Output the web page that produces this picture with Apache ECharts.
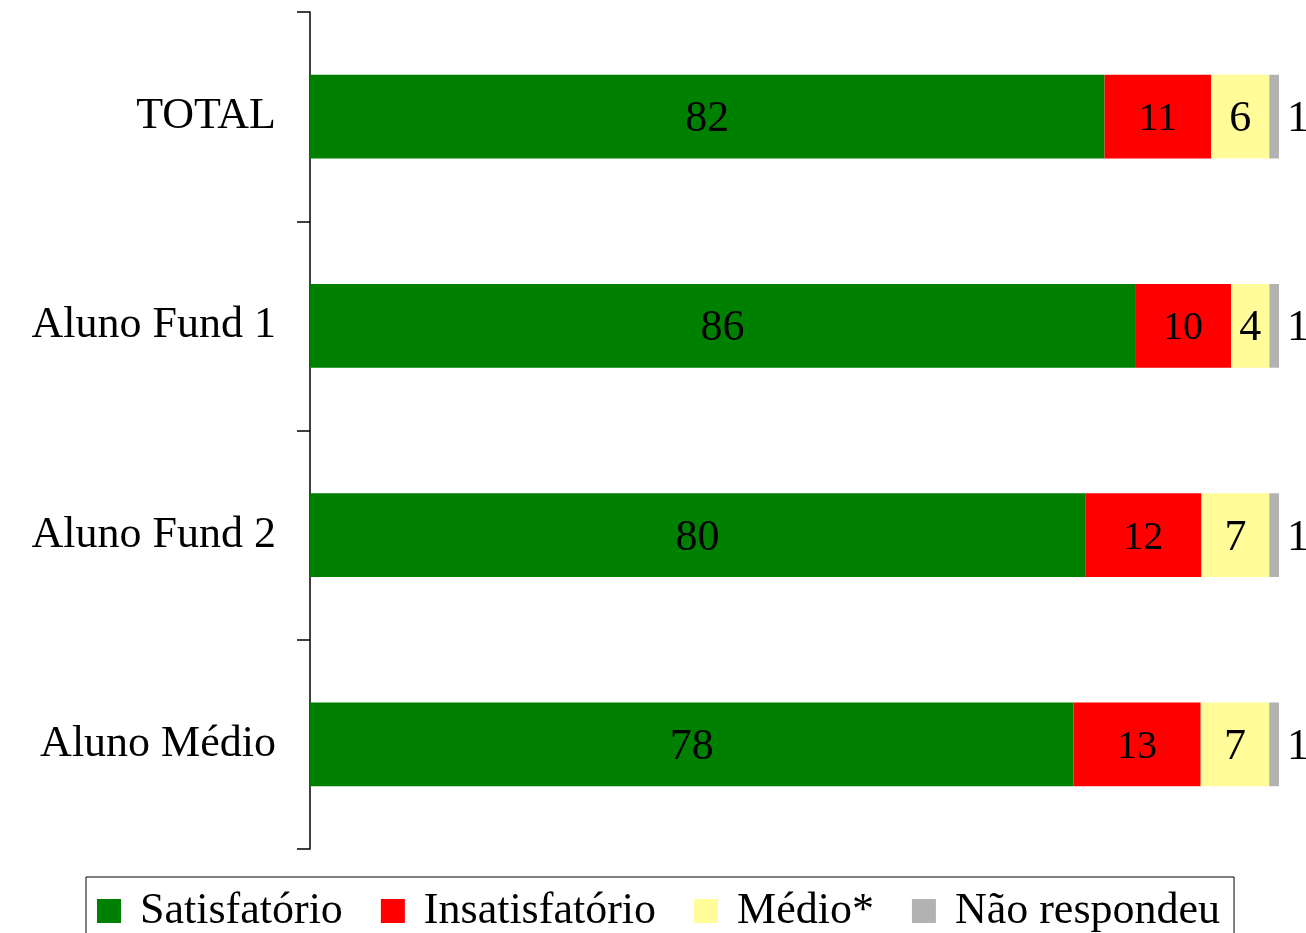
<!DOCTYPE html>
<html><head><meta charset="utf-8">
<script src="https://cdn.jsdelivr.net/npm/echarts@6/dist/echarts.min.js"></script>
<style>html,body{margin:0;padding:0;background:#fff}#c{width:1306px;height:933px}</style>
</head><body><div id="c"></div>
<script>
const categories = ['TOTAL', 'Aluno Fund 1', 'Aluno Fund 2', 'Aluno Médio'];
const seriesNames = ['Satisfatório', 'Insatisfatório', 'Médio*', 'Não respondeu'];
const satisfatorio = [82, 86, 80, 78];
const insatisfatorio = [11, 10, 12, 13];
const medio = [6, 4, 7, 7];
const naoRespondeu = [1, 1, 1, 1];
const colors = ['#008000', '#FF0000', '#FFFC99', '#B2B2B2'];

const raw = [satisfatorio, insatisfatorio, medio, naoRespondeu];
const rowSums = categories.map((_, i) => raw.reduce((s, arr) => s + arr[i], 0));
const FONT = '"Liberation Serif","DejaVu Serif",serif';

const chart = echarts.init(document.getElementById('c'), null, {renderer: 'canvas'});
const series = raw.map((arr, k) => ({
  name: seriesNames[k],
  type: 'bar',
  stack: 'total',
  barWidth: '40%',
  itemStyle: {color: colors[k]},
  data: arr.map((v, i) => ({value: v / rowSums[i] * 100, raw: v})),
  label: {
    show: true,
    position: k === 3 ? 'right' : 'inside',
    distance: 8,
    color: '#000',
    fontFamily: FONT,
    fontSize: k === 1 ? 40 : 44,
    offset: [0, 3],
    formatter: p => String(p.data.raw)
  }
}));

chart.setOption({
  animation: false,
  backgroundColor: '#fff',
  grid: {left: 310, right: 27, top: 12, bottom: 84, containLabel: false},
  xAxis: {type: 'value', min: 0, max: 100, show: false},
  yAxis: {
    type: 'category',
    inverse: true,
    data: categories,
    axisLine: {show: true, lineStyle: {color: '#000', width: 1.5}},
    axisTick: {show: true, inside: false, length: 13, lineStyle: {color: '#000', width: 1.5}},
    axisLabel: {color: '#000', fontFamily: FONT, fontSize: 44, margin: 34, padding: [8, 0, 0, 0]}
  },
  legend: {
    left: 86, top: 877,
    data: seriesNames,
    itemWidth: 24, itemHeight: 24, itemGap: 38,
    borderColor: '#000', borderWidth: 1,
    padding: [12, 14, 20, 11],
    icon: 'rect',
    textStyle: {color: '#000', fontFamily: FONT, fontSize: 44, padding: [0, 0, 0, 14]}
  },
  series: series
});
</script></body></html>
